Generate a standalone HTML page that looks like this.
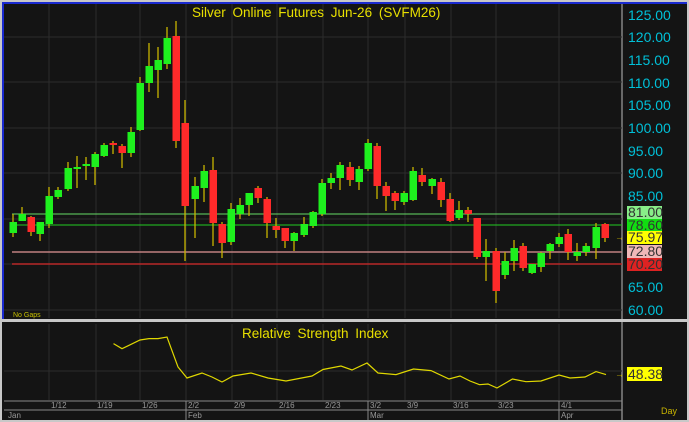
<!DOCTYPE html>
<html><head><meta charset="utf-8"><style>
body{margin:0;width:689px;height:422px;overflow:hidden;background:#c8c8c8;font-family:"Liberation Sans",sans-serif}
svg{display:block}
</style></head><body>
<svg width="689" height="422" xmlns="http://www.w3.org/2000/svg" font-family="Liberation Sans, sans-serif">
<rect x="0" y="0" width="689" height="422" fill="#c8c8c8"/>
<rect x="2" y="2" width="685" height="317" fill="#141414"/>
<rect x="2" y="2" width="685" height="2" fill="#1a2ad0"/>
<rect x="2" y="2" width="2" height="317" fill="#1a2ad0"/>
<rect x="2" y="322" width="685" height="98" fill="#141414"/>
<line x1="622" y1="4" x2="622" y2="319" stroke="#bbb" stroke-width="1"/>
<line x1="622" y1="322" x2="622" y2="420" stroke="#bbb"/>
<line x1="4" y1="401" x2="622" y2="401" stroke="#888"/>
<line x1="4" y1="410" x2="622" y2="410" stroke="#888"/>
<g stroke="#2c2c2c" stroke-width="1">
<line x1="4" y1="37" x2="622" y2="37"/><line x1="4" y1="82" x2="622" y2="82"/><line x1="4" y1="128" x2="622" y2="128"/><line x1="4" y1="173" x2="622" y2="173"/><line x1="4" y1="219" x2="622" y2="219"/><line x1="4" y1="264" x2="622" y2="264"/><line x1="4" y1="310" x2="622" y2="310"/>
<line x1="4" y1="371" x2="622" y2="371"/>
</g>
<g stroke="#2c2c2c">
<line x1="49" y1="4" x2="49" y2="318"/><line x1="96" y1="4" x2="96" y2="318"/><line x1="140" y1="4" x2="140" y2="318"/><line x1="186" y1="4" x2="186" y2="318"/><line x1="232" y1="4" x2="232" y2="318"/><line x1="277" y1="4" x2="277" y2="318"/><line x1="323" y1="4" x2="323" y2="318"/><line x1="368" y1="4" x2="368" y2="318"/><line x1="405" y1="4" x2="405" y2="318"/><line x1="451" y1="4" x2="451" y2="318"/><line x1="496" y1="4" x2="496" y2="318"/><line x1="559" y1="4" x2="559" y2="318"/>
<line x1="49" y1="324" x2="49" y2="400"/><line x1="96" y1="324" x2="96" y2="400"/><line x1="140" y1="324" x2="140" y2="400"/><line x1="186" y1="324" x2="186" y2="400"/><line x1="232" y1="324" x2="232" y2="400"/><line x1="277" y1="324" x2="277" y2="400"/><line x1="323" y1="324" x2="323" y2="400"/><line x1="368" y1="324" x2="368" y2="400"/><line x1="405" y1="324" x2="405" y2="400"/><line x1="451" y1="324" x2="451" y2="400"/><line x1="496" y1="324" x2="496" y2="400"/><line x1="559" y1="324" x2="559" y2="400"/>
</g>
<text x="192" y="17" fill="#e8e000" font-size="13.5" word-spacing="3">Silver Online Futures Jun-26 (SVFM26)</text>
<text x="13" y="317" fill="#c8c000" font-size="7">No Gaps</text>
<g stroke="#66dd66"><line x1="12" y1="214" x2="622" y2="214"/></g>
<g stroke="#22cc22"><line x1="12" y1="225" x2="622" y2="225"/></g>
<g stroke="#c08080" stroke-width="1.5"><line x1="12" y1="252" x2="622" y2="252"/></g>
<g stroke="#b82828" stroke-width="1.5"><line x1="12" y1="264" x2="622" y2="264"/></g>
<path fill="none" stroke="#c8b400" stroke-width="1.3" d="M13 214V237M22 207V221M31 216V236M40 222V241M49 187V228M58 187V199M68 162V191M77 156V188M86 157V180M95 152V185M104 143V157M113 141V154M122 144V168M131 127V157M140 77V131M149 43V92M158 47V98M167 27V69M176 21V148M185 100V261M195 177V238M204 165V202M213 157V246M222 222V258M231 203V245M240 198V219M249 193V216M258 186V203M267 197V238M276 218V238M285 228V248M294 232V251M304 217V237M313 211V228M322 179V216M331 173V189M340 162V190M350 162V186M359 166V190M368 139V171M377 143V199M386 182V211M395 191V210M404 191V205M413 167V201M422 168V186M432 178V194M441 178V207M450 193V222M459 201V220M468 207V222M477 218V259M486 239V281M496 248V303M505 252V279M514 240V271M523 243V271M532 264V274M541 252V272M550 243V259M559 233V247M568 229V260M577 243V261M586 243V256M596 223V259M605 223V242"/>
<g fill="#1ef01e">
<rect x="9.5" y="222" width="7.5" height="11"/><rect x="18.5" y="214" width="7.5" height="7"/><rect x="36.5" y="222" width="7.5" height="12"/><rect x="45.5" y="196" width="7.5" height="28"/><rect x="54.5" y="190" width="7.5" height="7"/><rect x="64.5" y="168" width="7.5" height="21"/><rect x="73.5" y="167" width="7.5" height="2"/><rect x="82.5" y="164" width="7.5" height="2"/><rect x="91.5" y="154" width="7.5" height="13"/><rect x="100.5" y="145" width="7.5" height="11"/><rect x="127.5" y="132" width="7.5" height="21"/><rect x="136.5" y="83" width="7.5" height="47"/><rect x="145.5" y="66" width="7.5" height="17"/><rect x="154.5" y="60" width="7.5" height="10"/><rect x="163.5" y="38" width="7.5" height="26"/><rect x="191.5" y="186" width="7.5" height="13"/><rect x="200.5" y="171" width="7.5" height="17"/><rect x="227.5" y="209" width="7.5" height="33"/><rect x="236.5" y="205" width="7.5" height="9"/><rect x="245.5" y="193" width="7.5" height="12"/><rect x="290.5" y="233" width="7.5" height="8"/><rect x="300.5" y="224" width="7.5" height="11"/><rect x="309.5" y="212" width="7.5" height="14"/><rect x="318.5" y="183" width="7.5" height="31"/><rect x="327.5" y="178" width="7.5" height="5"/><rect x="336.5" y="165" width="7.5" height="13"/><rect x="355.5" y="169" width="7.5" height="13"/><rect x="364.5" y="143" width="7.5" height="26"/><rect x="400.5" y="193" width="7.5" height="9"/><rect x="409.5" y="171" width="7.5" height="29"/><rect x="428.5" y="179" width="7.5" height="7"/><rect x="455.5" y="210" width="7.5" height="8"/><rect x="482.5" y="251" width="7.5" height="6"/><rect x="501.5" y="261" width="7.5" height="14"/><rect x="510.5" y="248" width="7.5" height="13"/><rect x="528.5" y="264" width="7.5" height="9"/><rect x="537.5" y="253" width="7.5" height="14"/><rect x="546.5" y="244" width="7.5" height="7"/><rect x="555.5" y="237" width="7.5" height="7"/><rect x="573.5" y="252" width="7.5" height="4"/><rect x="582.5" y="246" width="7.5" height="6"/><rect x="592.5" y="227" width="7.5" height="21"/>
</g>
<g fill="#ff2a2a">
<rect x="27.5" y="217" width="7.5" height="15"/><rect x="109.5" y="143" width="7.5" height="2"/><rect x="118.5" y="146" width="7.5" height="7"/><rect x="172.5" y="36" width="7.5" height="105"/><rect x="181.5" y="123" width="7.5" height="83"/><rect x="209.5" y="170" width="7.5" height="53"/><rect x="218.5" y="224" width="7.5" height="19"/><rect x="254.5" y="188" width="7.5" height="10"/><rect x="263.5" y="199" width="7.5" height="24"/><rect x="272.5" y="226" width="7.5" height="4"/><rect x="281.5" y="228" width="7.5" height="13"/><rect x="346.5" y="167" width="7.5" height="13"/><rect x="373.5" y="146" width="7.5" height="40"/><rect x="382.5" y="186" width="7.5" height="10"/><rect x="391.5" y="193" width="7.5" height="8"/><rect x="418.5" y="175" width="7.5" height="7"/><rect x="437.5" y="182" width="7.5" height="18"/><rect x="446.5" y="199" width="7.5" height="22"/><rect x="464.5" y="210" width="7.5" height="4"/><rect x="473.5" y="218" width="7.5" height="39"/><rect x="492.5" y="251" width="7.5" height="40"/><rect x="519.5" y="246" width="7.5" height="22"/><rect x="564.5" y="234" width="7.5" height="18"/><rect x="601.5" y="224" width="7.5" height="14"/>
</g>
<g fill="#00c0d8" font-size="14">
<text x="628" y="20">125.00</text><text x="628" y="42">120.00</text><text x="628" y="65">115.00</text><text x="628" y="88">110.00</text><text x="628" y="110">105.00</text><text x="628" y="133">100.00</text><text x="628" y="156">95.00</text><text x="628" y="178">90.00</text><text x="628" y="201">85.00</text><text x="628" y="292">65.00</text><text x="628" y="315">60.00</text>
</g>
<rect x="627" y="206" width="35" height="13" fill="#88ee88"/><text x="628" y="217" font-size="14" fill="#333">81.00</text>
<rect x="627" y="219" width="35" height="12" fill="#11dd11"/><text x="628" y="230" font-size="14" fill="#333">78.60</text>
<rect x="627" y="231" width="35" height="13" fill="#ffff00"/><text x="628" y="242" font-size="14" fill="#333">75.97</text>
<rect x="627" y="245" width="35" height="13" fill="#f0b8b8"/><text x="628" y="256" font-size="14" fill="#333">72.80</text>
<rect x="627" y="258" width="35" height="13" fill="#dd2222"/><text x="628" y="269" font-size="14" fill="#333">70.20</text>
<text x="615" y="240" font-size="9" fill="#c8b400">→</text>
<text x="242" y="338" fill="#e8e000" font-size="13.5" word-spacing="3">Relative Strength Index</text>
<polyline fill="none" stroke="#e0d800" stroke-width="1.2" points="113.5,343.6 122,348.7 140,340 149,338.6 158,338.6 167,337 178,367 187,378 202,373 212,377 222,382 233,376 251,373 268,378 286,381 312,376 323,369.5 341,366 352,370 367,363 378,373 396,374.6 413.5,369 431,370.6 449,379 460,376 470,381 479.5,384.7 488,384 497,388 512.5,379 526,381.7 541,381 559,375 570,378 585,377 596,371.6 606,374.6"/>
<rect x="627" y="367" width="35" height="14" fill="#ffff00"/><text x="628" y="379" font-size="14" fill="#333">48.38</text>
<text x="615" y="377" font-size="9" fill="#c8b400">→</text>
<g fill="#999" font-size="8">
<text x="51" y="408">1/12</text><text x="97" y="408">1/19</text><text x="142" y="408">1/26</text><text x="188" y="408">2/2</text><text x="234" y="408">2/9</text><text x="279" y="408">2/16</text><text x="325" y="408">2/23</text><text x="370" y="408">3/2</text><text x="407" y="408">3/9</text><text x="453" y="408">3/16</text><text x="498" y="408">3/23</text><text x="561" y="408">4/1</text>
<text x="8" y="418">Jan</text><text x="188" y="418">Feb</text><text x="370" y="418">Mar</text><text x="561" y="418">Apr</text>
</g>
<g stroke="#888"><line x1="186" y1="401" x2="186" y2="420"/><line x1="368" y1="401" x2="368" y2="420"/><line x1="559" y1="401" x2="559" y2="420"/></g>
<text x="661" y="414" fill="#c8b400" font-size="9">Day</text>
</svg>
</body></html>
